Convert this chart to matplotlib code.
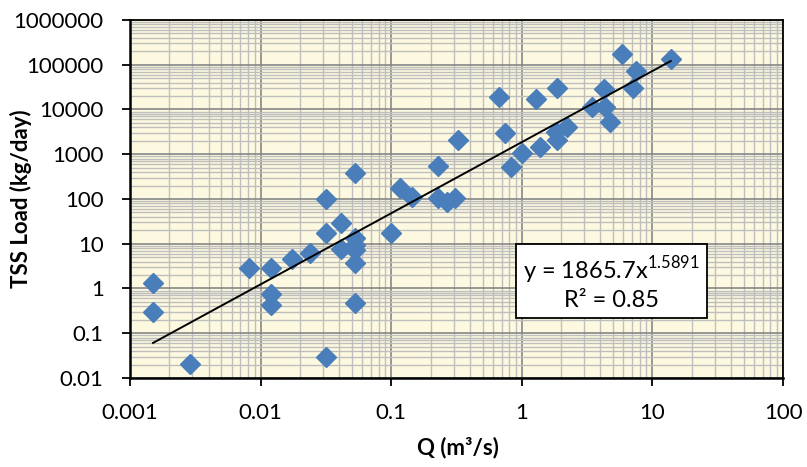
import matplotlib
matplotlib.use("Agg")
import numpy as np
import matplotlib.pyplot as plt
from matplotlib.ticker import LogLocator, NullFormatter

plt.rcParams['font.family'] = ['Lato', 'DejaVu Sans']
plt.rcParams['mathtext.fontset'] = 'custom'
plt.rcParams['mathtext.rm'] = 'Lato'

# observed discharge (m3/s) and TSS load (kg/day)
q = [0.0015, 0.0015, 0.0029, 0.0081, 0.012, 0.012, 0.012, 0.0174, 0.0239,
     0.0317, 0.0317, 0.0317, 0.0413, 0.0413, 0.0528, 0.0528, 0.0528, 0.0528,
     0.0528, 0.0528, 0.1, 0.117, 0.144, 0.229, 0.229, 0.266, 0.307, 0.324,
     0.67, 0.74, 0.82, 1.0, 1.28, 1.38, 1.87, 1.87, 1.83, 2.2, 3.43, 4.26,
     4.35, 4.73, 5.82, 7.06, 7.45, 13.8]
tss = [1.33, 0.30, 0.021, 2.87, 2.87, 0.75, 0.43, 4.5, 6.2,
       100, 17.4, 0.029, 29, 7.6, 381, 13.4, 9.4, 7.2,
       3.7, 0.47, 17, 173, 113, 555, 103, 87, 103, 2080,
       19400, 2940, 527, 1050, 16900, 1476, 29700, 2080, 3200, 4130, 11550, 28300,
       11550, 5340, 171000, 29700, 73700, 132000]

fit_a = 1865.7
fit_b = 1.5891
fit_text = 'y = 1865.7x$^{1.5891}$\nR² = 0.85'

x_ticks = [0.001, 0.01, 0.1, 1, 10, 100]
x_tick_labels = ['0.001', '0.01', '0.1', '1', '10', '100']
y_ticks = [0.01, 0.1, 1, 10, 100, 1000, 10000, 100000, 1000000]
y_tick_labels = ['0.01', '0.1', '1', '10', '100', '1000', '10000', '100000', '1000000']

fig = plt.figure(figsize=(8.07, 4.67), dpi=100)
ax = fig.add_axes([0.1611, 0.1906, 0.8092, 0.7666])
ax.set_facecolor('#FDF9E0')

ax.set_xscale('log')
ax.set_yscale('log')
ax.set_xlim(0.001, 100)
ax.set_ylim(0.01, 1000000)

ax.plot(q, tss, linestyle='none', marker='D', markersize=10,
        color='#4A7EBB', zorder=3)

xfit = np.array([min(q), max(q)])
ax.plot(xfit, fit_a * xfit ** fit_b, color='black', linewidth=1.4, zorder=4)

ax.set_xticks(x_ticks)
ax.set_xticklabels(x_tick_labels)
ax.set_yticks(y_ticks)
ax.set_yticklabels(y_tick_labels)
ax.xaxis.set_minor_locator(LogLocator(base=10, subs=np.arange(2, 10), numticks=20))
ax.yaxis.set_minor_locator(LogLocator(base=10, subs=np.arange(2, 10), numticks=20))
ax.xaxis.set_minor_formatter(NullFormatter())
ax.yaxis.set_minor_formatter(NullFormatter())

ax.tick_params(which='major', direction='out', length=6, width=1.3,
               labelsize=16, top=False, right=False)
ax.tick_params(axis='x', which='major', pad=12)
ax.tick_params(axis='y', which='major', pad=13)
ax.tick_params(which='minor', length=0)

ax.set_axisbelow(True)
ax.grid(which='minor', color='#BEBEBE', linewidth=1.0)
ax.grid(which='major', color='#868686', linewidth=1.2)

for side in ['left', 'bottom']:
    ax.spines[side].set_linewidth(1.8)
for side in ['top', 'right']:
    ax.spines[side].set_linewidth(1.3)

ax.set_xlabel('Q (m³/s)', fontsize=16, fontweight='bold')
ax.set_ylabel('TSS Load (kg/day)', fontsize=16, fontweight='bold')
ax.xaxis.set_label_coords(0.502, -0.165)
ax.yaxis.set_label_coords(-0.150, 0.5)

ax.text(0.737, 0.267, fit_text, transform=ax.transAxes, ha='center', va='center',
        multialignment='center', fontsize=17, linespacing=1.25, zorder=5,
        bbox=dict(boxstyle='square,pad=0.3', facecolor='white',
                  edgecolor='black', linewidth=1.3))

fig.savefig('out.png', dpi=100)
